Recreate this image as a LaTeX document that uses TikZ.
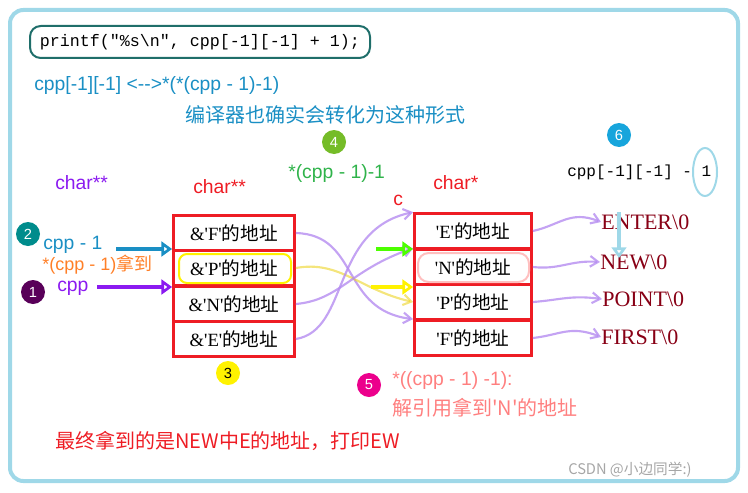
\documentclass[tikz,border=0pt]{standalone}
\usepackage{fontspec}
\setmainfont{Liberation Serif}
\setsansfont{Liberation Sans}
\setmonofont{Liberation Mono}
\newfontfamily\cjk{Noto Sans CJK SC}
\usetikzlibrary{arrows.meta}
\definecolor{frame}{HTML}{9FD8E8}
\definecolor{codebox}{HTML}{1F6E6A}
\definecolor{tblue}{HTML}{1A8FC4}
\definecolor{tpurple}{HTML}{8B1AF0}
\definecolor{tred}{HTML}{EE1C24}
\definecolor{tgreen}{HTML}{2FB34A}
\definecolor{torange}{HTML}{FF7F27}
\definecolor{tsalmon}{HTML}{FF7F7F}
\definecolor{dred}{HTML}{880015}
\definecolor{wavy}{HTML}{B58CF0}
\newcommand{\q}{\textquotesingle}
\begin{document}
\begin{tikzpicture}[x=0.75pt,y=-0.75pt,
  lab/.style={anchor=west,inner sep=0pt,font=\fontsize{14.5}{16}\sffamily},
  cell/.style={draw=tred,line width=1.8pt,minimum width=91pt,minimum height=26.5pt,inner sep=0pt,font=\fontsize{14}{16}\selectfont},
  badge/.style={circle,fill=#1,text=white,minimum size=18pt,inner sep=0pt,font=\fontsize{11}{12}\sffamily},
  warr/.style={wavy,line width=1.6pt,opacity=0.8,-{Straight Barb[length=6pt,width=8pt]}},
  harr/.style={line width=3pt,-{Triangle[length=8pt,width=11pt,open]}},
  str/.style={anchor=west,inner sep=0pt,text=dred,font=\fontsize{16.5}{18}\selectfont}]
\useasboundingbox (0,0) rectangle (748,492);
\draw[frame,line width=3pt,rounded corners=10pt] (10,10) rectangle (738,481);
\node[draw=codebox,line width=1.5pt,rounded corners=8pt,minimum width=255pt,minimum height=24pt,font=\fontsize{12.5}{14}\ttfamily] (code) at (200,42) {printf("\%s\textbackslash n", cpp[-1][-1] + 1);};
\node[lab,text=tblue] (eq) at (34,86) {cpp[-1][-1] <{-}{-}>*(*(cpp - 1)-1)};
\node[lab,text=tblue,font=\fontsize{15}{17}\cjk] (cmt) at (185,115) {编译器也确实会转化为这种形式};
\node[badge=tgreen!60!yellow!90!black] (b4) at (334,142) {4};
\node[lab,text=tgreen] (e4) at (288,173) {*(cpp - 1)-1};
\node[badge=cyan!80!teal] (b6) at (619,135) {6};
\node[lab,text=black,font=\fontsize{12}{13}\ttfamily] (e6) at (567,172) {cpp[-1][-1] - 1};
\draw[frame,line width=1.5pt] (705,172) ellipse (12 and 24);
\node[lab,text=tpurple] (t1) at (55,183) {char**};
\node[lab,text=tred] (t2) at (193,187) {char**};
\node[lab,text=tred] (t3) at (433,183) {char*};
\node[lab,text=tred] (tc) at (393,200) {c};
% left boxes
\node[cell] (l1) at (234,233) {\&\q F\q{\cjk 的地址}};
\node[cell] (l2) at (234,268) {\&\q P\q{\cjk 的地址}};
\node[cell] (l3) at (234,304) {\&\q N\q{\cjk 的地址}};
\node[cell] (l4) at (234,339) {\&\q E\q{\cjk 的地址}};
\draw[yellow,line width=1.5pt,rounded corners=6pt] (179,254) rectangle (291,283);
% right boxes
\node[cell,minimum width=88pt] (r1) at (473,231) {\q E\q{\cjk 的地址}};
\node[cell,minimum width=88pt] (r2) at (473,267) {\q N\q{\cjk 的地址}};
\node[cell,minimum width=88pt] (r3) at (473,302) {\q P\q{\cjk 的地址}};
\node[cell,minimum width=88pt] (r4) at (473,338) {\q F\q{\cjk 的地址}};
\draw[pink,line width=1.5pt,rounded corners=8pt] (418,253) rectangle (529,282);
% strings
\node[str] (s1) at (601,222) {ENTER\textbackslash 0};
\node[str] (s2) at (600,262) {NEW\textbackslash 0};
\node[str] (s3) at (602,299) {POINT\textbackslash 0};
\node[str] (s4) at (601,337) {FIRST\textbackslash 0};
% left labels
\node[badge=teal!90!cyan] (b2) at (28,234) {2};
\node[lab,text=tblue] (cm1) at (43,245) {cpp - 1};
\node[lab,text=torange,font=\fontsize{13.5}{15}\sffamily] (got) at (42,265) {*(cpp - 1){\cjk 拿到}};
\node[badge=violet!70!black] (b1) at (33,292) {1};
\node[lab,text=tpurple] (cpp) at (57,288) {cpp};
\coordinate (a2s) at (116,249);
\draw[harr,tblue] (a2s) -- (a2s -| l1.west);
\coordinate (a1s) at (97,287);
\draw[harr,tpurple] (a1s) -- (a1s -| l2.west);
\node[badge=yellow,text=black] (b3) at (228,373) {3};
\node[badge=magenta] (b5) at (369,385) {5};
\node[lab,text=tsalmon] (e5) at (392,380) {*((cpp - 1) -1):};
\node[lab,text=tsalmon,font=\fontsize{15}{17}\cjk] (e5b) at (392,408) {解引用拿到'N'的地址};
\node[lab,text=tred,font=\fontsize{15}{17}\cjk] (fin) at (55,441) {最终拿到的是NEW中E的地址，打印EW};
\node[lab,text=gray!70,font=\fontsize{11}{12}\cjk] (wm) at (568,470) {CSDN @小边同学:)};
% wavy links
\draw[warr] (l1.east) .. controls (360,235) and (340,310) .. (r4.north west);
\draw[warr,yellow!70!brown,opacity=0.6] (l2.east) .. controls (340,260) and (360,290) .. (r3.west);
\draw[warr] (l3.east) .. controls (340,300) and (350,270) .. (r2.north west);
\draw[warr] (l4.east) .. controls (350,330) and (330,230) .. (r1.north west);
\draw[warr] (r1.east) .. controls (560,225) and (570,210) .. (s1.west);
\draw[warr] (r2.east) .. controls (560,270) and (570,260) .. (s2.west);
\draw[warr] (r3.east) .. controls (560,300) and (570,295) .. (s3.west);
\draw[warr] (r4.east) .. controls (560,335) and (570,325) .. (s4.west);
\coordinate (gs) at (376,249);
\draw[harr,green!70!yellow,line width=2.5pt] (gs) -- (gs -| r1.west);
\coordinate (ys) at (371,287);
\draw[harr,yellow,line width=2.5pt] (ys) -- (ys -| r2.west);
\coordinate (eA) at (619,212);
\coordinate (eB) at (619,258);
\draw[harr,frame,line width=3pt] (eA) -- (eB);
\end{tikzpicture}
\end{document}
